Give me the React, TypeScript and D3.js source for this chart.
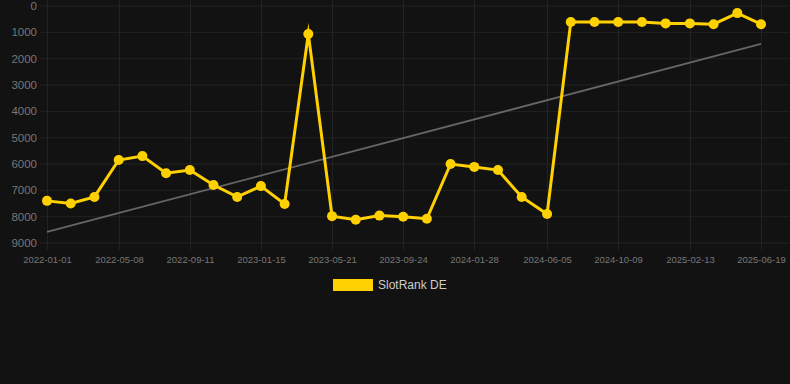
import React from "react";
import * as d3 from "d3";

const dates = [
  "2022-01-01", "2022-02-12", "2022-03-26", "2022-05-08", "2022-06-19", "2022-07-31",
  "2022-09-11", "2022-10-23", "2022-12-04", "2023-01-15", "2023-02-26", "2023-04-09",
  "2023-05-21", "2023-07-02", "2023-08-13", "2023-09-24", "2023-11-05", "2023-12-17",
  "2024-01-28", "2024-03-10", "2024-04-21", "2024-06-05", "2024-07-17", "2024-08-28",
  "2024-10-09", "2024-11-20", "2025-01-01", "2025-02-13", "2025-03-27", "2025-05-08",
  "2025-06-19",
];

const ranks = [
  7400, 7500, 7250, 5850, 5700, 6350, 6230, 6800, 7250, 6840, 7520, 1060,
  7980, 8120, 7960, 8000, 8080, 6000, 6110, 6230, 7250, 7900, 610, 610,
  610, 610, 660, 660, 690, 270, 690,
];

const trendDates = ["2022-01-01", "2025-06-19"];
const trendValues = [8580, 1440];

const xTicks = [
  "2022-01-01", "2022-05-08", "2022-09-11", "2023-01-15", "2023-05-21", "2023-09-24",
  "2024-01-28", "2024-06-05", "2024-10-09", "2025-02-13", "2025-06-19",
];
const yTicks = [0, 1000, 2000, 3000, 4000, 5000, 6000, 7000, 8000, 9000];

const W = 790;
const H = 384;
const parse = d3.utcParse("%Y-%m-%d");

export default function App() {
  const x = d3
    .scaleUtc()
    .domain([parse(xTicks[0])!, parse(xTicks[xTicks.length - 1])!])
    .range([47, 761]);
  const y = d3.scaleLinear().domain([0, 9000]).range([6, 243]);

  const pts = dates.map((d, i) => ({ d: parse(d)!, v: ranks[i] }));
  const line = d3
    .line<{ d: Date; v: number }>()
    .x((p) => x(p.d))
    .y((p) => y(p.v));
  const trend = trendDates.map((d, i) => ({ d: parse(d)!, v: trendValues[i] }));

  const font = "Helvetica, Arial, 'Liberation Sans', sans-serif";

  return (
    <div style={{ position: "fixed", left: 0, top: 0, width: W, height: H, background: "#121212" }}>
      <svg width={W} height={H} style={{ display: "block" }}>
        <rect width={W} height={H} fill="#121212" />
        {yTicks.map((t) => (
          <g key={t}>
            <line x1={40} x2={790} y1={y(t)} y2={y(t)} stroke="#222" strokeWidth={1} />
            <text
              x={37}
              y={y(t)}
              dy="0.35em"
              textAnchor="end"
              fill="#777"
              fontSize={11.5}
              fontFamily={font}
            >
              {t}
            </text>
          </g>
        ))}
        {xTicks.map((t) => {
          const xx = Math.round(x(parse(t)!)) + 0.5;
          return (
            <g key={t}>
              <line x1={xx} x2={xx} y1={0} y2={250} stroke="#222" strokeWidth={1} />
              <text
                x={xx}
                y={263}
                textAnchor="middle"
                fill="#777"
                fontSize={9.5}
                fontFamily={font}
              >
                {t}
              </text>
            </g>
          );
        })}
        <path
          d={line(trend) ?? ""}
          fill="none"
          stroke="#666"
          strokeWidth={1.8}
        />
        <path
          d={line(pts) ?? ""}
          fill="none"
          stroke="#FFD100"
          strokeWidth={3}
          strokeLinejoin="miter"
          strokeMiterlimit={10}
        />
        {pts.map((p, i) => (
          <circle key={i} cx={x(p.d)} cy={y(p.v)} r={5} fill="#FFD100" />
        ))}
        <rect x={333} y={279} width={40} height={12} fill="#FFD100" />
        <text x={378} y={289} fill="#ccc" fontSize={12} fontFamily={font}>
          SlotRank DE
        </text>
      </svg>
    </div>
  );
}
